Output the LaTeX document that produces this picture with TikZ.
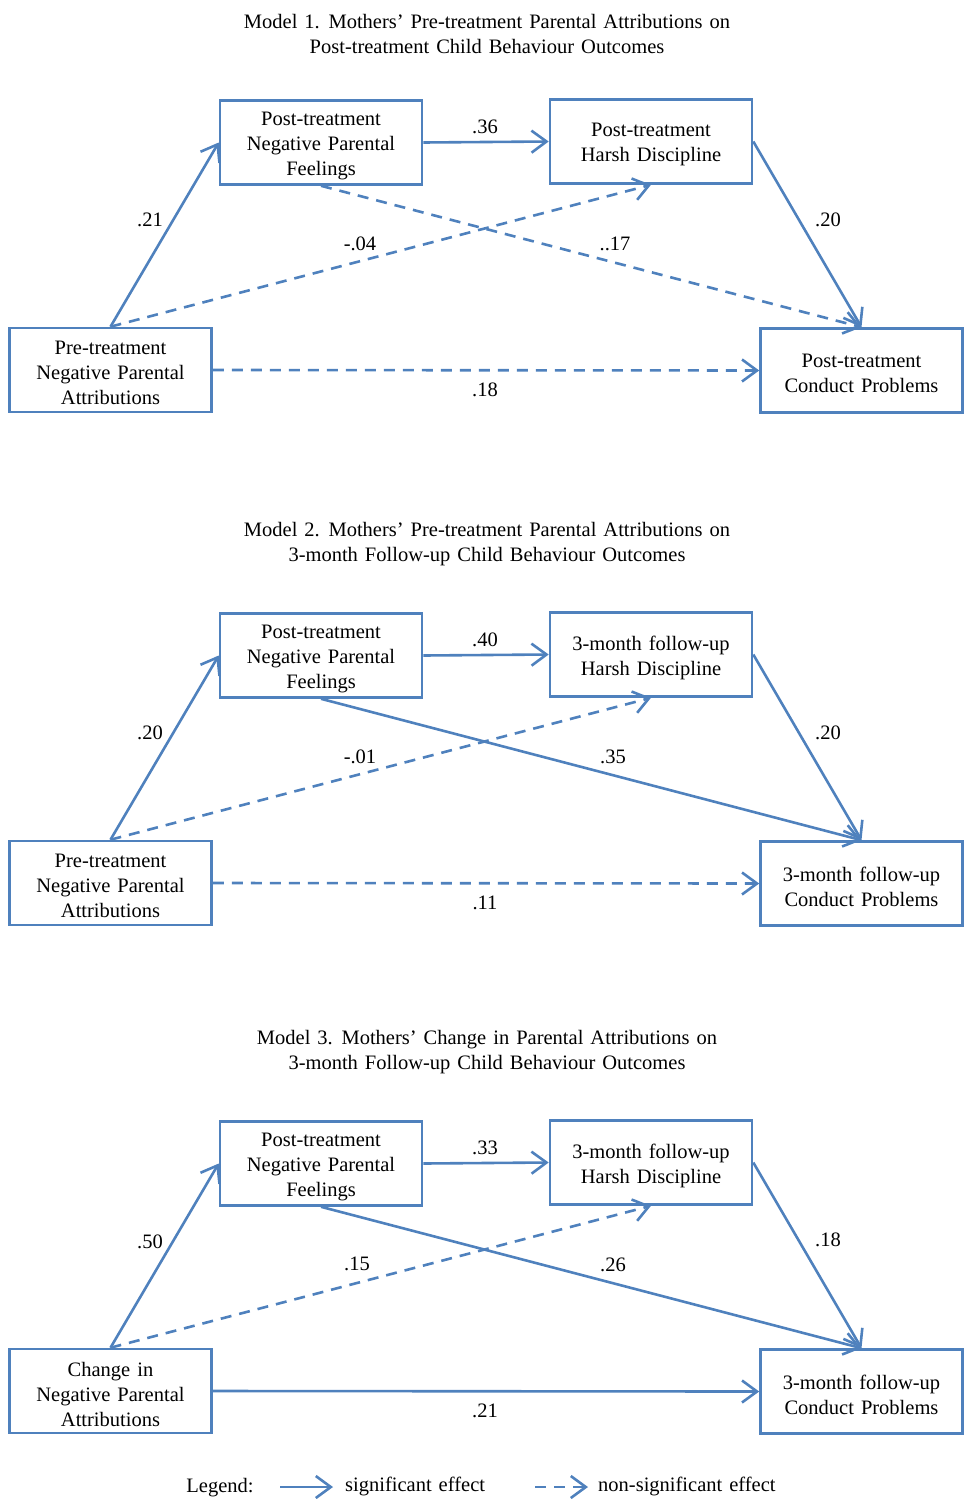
\documentclass[tikz,border=0pt]{standalone}
\usepackage{fontspec}
\setmainfont{Liberation Serif}
\usetikzlibrary{arrows.meta}
\definecolor{edgeblue}{HTML}{4F81BD}
\newcommand\mywordspace{\spaceskip=7pt plus 2pt minus 1pt\relax}
\tikzset{
 txt/.style={font=\fontsize{20.5}{25}\selectfont\mywordspace},
 box/.style={draw=edgeblue, line width=2.6pt, minimum width=202pt, minimum height=84pt, inner sep=0pt},
 boxtext/.style={txt, align=center, inner sep=0pt, yshift=-3pt},
 sig/.style={draw=edgeblue, line width=2.6pt, -{Straight Barb[length=15pt,width=22pt,line width=2.6pt]}},
 nonsig/.style={sig, dash pattern=on 11pt off 8pt},
 lbl/.style={txt, inner sep=0pt},
 ttl/.style={txt, align=center, inner sep=0pt},
}
\begin{document}
\begin{tikzpicture}[x=1pt,y=-1pt]
\useasboundingbox (0,0) rectangle (965,1499);
% ---------- Model 1
\node[ttl] (T1) at (487,33.5) {Model 1. Mothers’ Pre-treatment Parental Attributions on\\Post-treatment Child Behaviour Outcomes};
\node[box, label={[boxtext]center:Pre-treatment\\Negative Parental\\Attributions}] (A1) at (110.5,370) {};
\node[box, label={[boxtext]center:Post-treatment\\Negative Parental\\Feelings}] (F1) at (321,142.5) {};
\node[box, label={[boxtext]center:Post-treatment\\Harsh Discipline}] (H1) at (651,141.5) {};
\node[box, label={[boxtext]center:Post-treatment\\Conduct Problems}] (C1) at (861.5,370.5) {};
\draw[sig] (A1.north) -- (F1.west);
\draw[sig] (F1.east) -- (H1.west);
\draw[nonsig] (A1.north) -- (H1.south);
\draw[nonsig] (F1.south) -- (C1.north);
\draw[sig] (H1.east) -- (C1.north);
\draw[nonsig] (A1.east) -- (C1.west);
\node[lbl] (l1a) at (485,127) {.36};
\node[lbl] (l1b) at (150,220) {.21};
\node[lbl] (l1c) at (360,244) {-.04};
\node[lbl] (l1d) at (615,244) {..17};
\node[lbl] (l1e) at (828,220) {.20};
\node[lbl] (l1f) at (485,390) {.18};
% ---------- Model 2
\begin{scope}[yshift=-513pt]
\node[ttl] (T2) at (487,31.5) {Model 2. Mothers’ Pre-treatment Parental Attributions on\\3-month Follow-up Child Behaviour Outcomes};
\node[box, label={[boxtext]center:Pre-treatment\\Negative Parental\\Attributions}] (A2) at (110.5,370) {};
\node[box, label={[boxtext]center:Post-treatment\\Negative Parental\\Feelings}] (F2) at (321,142.5) {};
\node[box, label={[boxtext]center:3-month follow-up\\Harsh Discipline}] (H2) at (651,141.5) {};
\node[box, label={[boxtext]center:3-month follow-up\\Conduct Problems}] (C2) at (861.5,370.5) {};
\draw[sig] (A2.north) -- (F2.west);
\draw[sig] (F2.east) -- (H2.west);
\draw[nonsig] (A2.north) -- (H2.south);
\draw[sig] (F2.south) -- (C2.north);
\draw[sig] (H2.east) -- (C2.north);
\draw[nonsig] (A2.east) -- (C2.west);
\node[lbl] (l2a) at (485,127) {.40};
\node[lbl] (l2b) at (150,220) {.20};
\node[lbl] (l2c) at (360,244) {-.01};
\node[lbl] (l2d) at (613,244) {.35};
\node[lbl] (l2e) at (828,220) {.20};
\node[lbl] (l2f) at (485,390) {.11};
\end{scope}
% ---------- Model 3
\begin{scope}[yshift=-1021pt]
\node[ttl] (T3) at (487,31.5) {Model 3. Mothers’ Change in Parental Attributions on\\3-month Follow-up Child Behaviour Outcomes};
\node[box, label={[boxtext]center:Change in\\Negative Parental\\Attributions}] (A3) at (110.5,370) {};
\node[box, label={[boxtext]center:Post-treatment\\Negative Parental\\Feelings}] (F3) at (321,142.5) {};
\node[box, label={[boxtext]center:3-month follow-up\\Harsh Discipline}] (H3) at (651,141.5) {};
\node[box, label={[boxtext]center:3-month follow-up\\Conduct Problems}] (C3) at (861.5,370.5) {};
\draw[sig] (A3.north) -- (F3.west);
\draw[sig] (F3.east) -- (H3.west);
\draw[nonsig] (A3.north) -- (H3.south);
\draw[sig] (F3.south) -- (C3.north);
\draw[sig] (H3.east) -- (C3.north);
\draw[sig] (A3.east) -- (C3.west);
\node[lbl] (l3a) at (485,127) {.33};
\node[lbl] (l3b) at (150,221) {.50};
\node[lbl] (l3c) at (357,243) {.15};
\node[lbl] (l3d) at (613,244) {.26};
\node[lbl] (l3e) at (828,219) {.18};
\node[lbl] (l3f) at (485,390) {.21};
\end{scope}
% ---------- Legend
\node[lbl] (leg) at (220,1488) {Legend:};
\coordinate (s1) at (280,1487);
\coordinate (s2) at (333,1487);
\coordinate (n1) at (535,1487);
\coordinate (n2) at (588,1487);
\draw[sig] (s1) -- (s2);
\draw[nonsig] (n1) -- (n2);
\node[lbl, anchor=west] (legs) at (345,1486) {significant effect};
\node[lbl, anchor=west] (legn) at (598,1486) {non-significant effect};
\end{tikzpicture}
\end{document}
